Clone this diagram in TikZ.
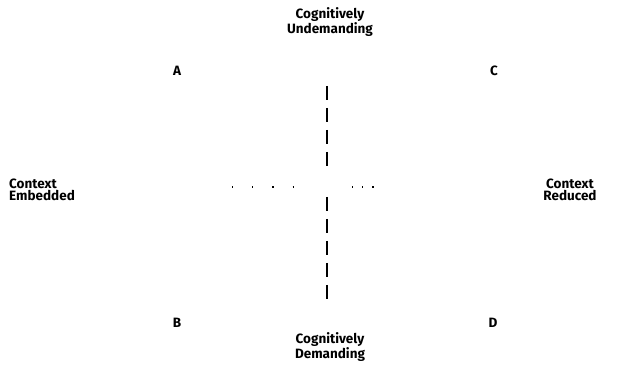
\documentclass[tikz,border=0pt]{standalone}
\usepackage{fontspec}
\setmainfont{Fira Sans}
\begin{document}
\begin{tikzpicture}[x=1pt,y=-1pt,
  lbl/.style={font=\bfseries\fontsize{13.5}{12.5}\selectfont, inner sep=0pt, align=center},
  axisdash/.style={line width=1.4pt, dash pattern=on 14pt off 8pt},
  axisdot/.style={line width=1.2pt, dash pattern=on 1.2pt off 19pt}]
\useasboundingbox (0,0) rectangle (624,371);
% quadrant corner letters
\node[lbl] (A) at (177,71) {A};
\node[lbl] (C) at (494,71) {C};
\node[lbl] (B) at (177,323) {B};
\node[lbl] (D) at (493,323) {D};
% axis end labels
\node[lbl] (top) at (330,22) {Cognitively\\Undemanding};
\node[lbl] (bot) at (330,347) {Cognitively\\Demanding};
\node[lbl, align=left, anchor=west] (left) at (9,190) {Context\\Embedded};
\node[lbl] (right) at (570,190) {Context\\Reduced};
% vertical axis, dashed, broken at the centre
\coordinate (v1) at (327,86);
\coordinate (v2) at (327,168);
\coordinate (v3) at (327,197);
\coordinate (v4) at (327,302);
\draw[axisdash] (v1) -- (v2);
\draw[axisdash] (v3) -- (v4);
% horizontal axis, sparse dots
\coordinate (h1) at (232,187);
\coordinate (h2) at (300,187);
\coordinate (h3) at (352,187);
\coordinate (h4) at (375,187);
\draw[axisdot] (h1) -- (h2);
\draw[axisdot, dash pattern=on 1.2pt off 9pt] (h3) -- (h4);
\end{tikzpicture}
\end{document}
